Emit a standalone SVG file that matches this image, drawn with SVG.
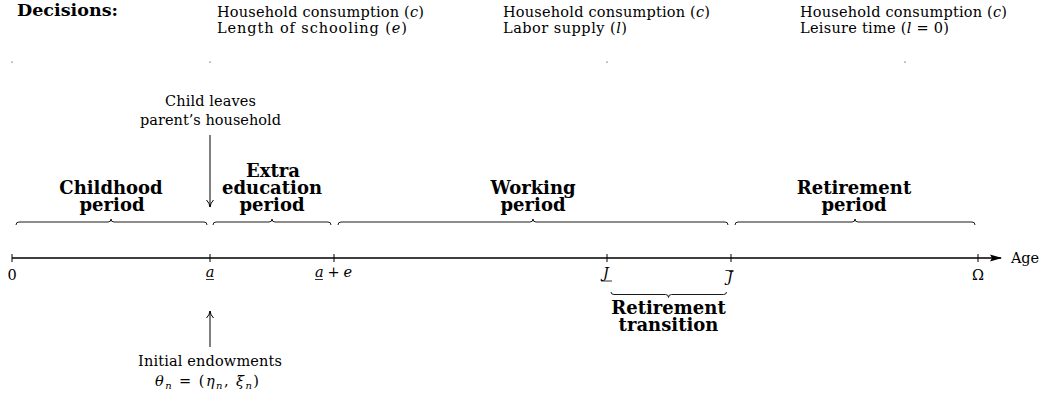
<svg xmlns="http://www.w3.org/2000/svg" width="1044" height="396" viewBox="0 0 1044 396">
<style>
text{font-family:"DejaVu Serif","Liberation Serif",serif;fill:#000}
.r{font-size:14.5px}
.b{font-size:18px;font-weight:bold}
.hd{font-size:17.5px;font-weight:bold}
.i{font-style:italic}
.s{font-size:10px;font-style:italic}
.br{fill:none;stroke:#000;stroke-width:0.9}
.tk{stroke:#000;stroke-width:1}
.ul{stroke:#000;stroke-width:0.8}
.ar{stroke:#000;stroke-width:1;fill:none}
</style>
<defs>
<marker id="open" viewBox="0 0 10 10" refX="9" refY="5" markerWidth="10" markerHeight="10" markerUnits="userSpaceOnUse" orient="auto">
<path d="M2,1.5 Q5,4.5 9,5 Q5,5.5 2,8.5" fill="none" stroke="#000" stroke-width="1"/>
</marker>
<marker id="stealth" viewBox="0 0 12 10" refX="11" refY="5" markerWidth="12" markerHeight="10" markerUnits="userSpaceOnUse" orient="auto">
<path d="M0,1.5 L12,5 L0,8.5 L2,5 Z" fill="#000"/>
</marker>
</defs>
<g id="decisions">
<text class="hd" x="17" y="16" textLength="101" lengthAdjust="spacingAndGlyphs">Decisions:</text>
<circle cx="12" cy="62" r="0.6" fill="#000"/>
</g>
<g id="decisions-education">
<text class="r" x="217" y="17" textLength="207">Household consumption (<tspan class="i">c</tspan>)</text>
<text class="r" x="217" y="33" textLength="190">Length of schooling (<tspan class="i">e</tspan>)</text>
<circle cx="210" cy="62" r="0.6" fill="#000"/>
</g>
<g id="decisions-working">
<text class="r" x="503" y="17" textLength="207">Household consumption (<tspan class="i">c</tspan>)</text>
<text class="r" x="503" y="33" textLength="124">Labor supply (<tspan class="i">l</tspan>)</text>
<circle cx="607" cy="62" r="0.6" fill="#000"/>
</g>
<g id="decisions-retirement">
<text class="r" x="800" y="17" textLength="207">Household consumption (<tspan class="i">c</tspan>)</text>
<text class="r" x="800" y="33" textLength="149">Leisure time (<tspan class="i">l</tspan> = 0)</text>
<circle cx="905" cy="62" r="0.6" fill="#000"/>
</g>
<g id="child-leaves">
<text class="r" x="165" y="106" textLength="91">Child leaves</text>
<text class="r" x="140" y="125" textLength="141">parent’s household</text>
</g>
<g id="initial-endowments">
<text class="r" x="138" y="366" textLength="144">Initial endowments</text>
<text class="r" x="155" y="386" textLength="104"><tspan class="i">θ</tspan><tspan class="s" dy="3">n</tspan><tspan dy="-3"> = (</tspan><tspan class="i">η</tspan><tspan class="s" dy="3">n</tspan><tspan dy="-3">, </tspan><tspan class="i">ξ</tspan><tspan class="s" dy="3">n</tspan><tspan dy="-3">)</tspan></text>
</g>
<g id="childhood">
<path class="br" d="M16,225 Q16,222 19,222 H108 Q111,222 111,219 Q111,222 114,222 H204 Q207,222 207,225"/>
<text class="b" x="111" y="194" text-anchor="middle">Childhood</text>
<text class="b" x="112" y="211" text-anchor="middle">period</text>
</g>
<g id="extra-education">
<path class="br" d="M213,225 Q213,222 216,222 H269 Q272,222 272,219 Q272,222 275,222 H328 Q331,222 331,225"/>
<text class="b" x="273" y="177" text-anchor="middle">Extra</text>
<text class="b" x="272" y="194" text-anchor="middle">education</text>
<text class="b" x="272" y="211" text-anchor="middle">period</text>
</g>
<g id="working">
<path class="br" d="M338,225 Q338,222 341,222 H530 Q533,222 533,219 Q533,222 536,222 H725 Q728,222 728,225"/>
<text class="b" x="533" y="194" text-anchor="middle">Working</text>
<text class="b" x="533" y="211" text-anchor="middle">period</text>
</g>
<g id="retirement">
<path class="br" d="M735,225 Q735,222 738,222 H852 Q855,222 855,219 Q855,222 858,222 H972 Q975,222 975,225"/>
<text class="b" x="854" y="194" text-anchor="middle">Retirement</text>
<text class="b" x="854" y="211" text-anchor="middle">period</text>
</g>
<g id="retirement-transition">
<path class="br" d="M611,292 Q611,294.5 614,294.5 H665.5 Q668.5,294.5 668.5,297.5 Q668.5,294.5 671.5,294.5 H723.5 Q726.5,294.5 726.5,292"/>
<text class="b" x="668.5" y="314" text-anchor="middle">Retirement</text>
<text class="b" x="668.5" y="331" text-anchor="middle">transition</text>
</g>
<g id="axis">
<line x1="12" y1="258" x2="1001" y2="258" stroke="#000" stroke-width="1.6" marker-end="url(#stealth)"/>
<line class="tk" x1="12" y1="254" x2="12" y2="262"/>
<line class="tk" x1="210" y1="254" x2="210" y2="262"/>
<line class="tk" x1="334" y1="254" x2="334" y2="262"/>
<line class="tk" x1="607" y1="254" x2="607" y2="262"/>
<line class="tk" x1="731" y1="254" x2="731" y2="262"/>
<line class="tk" x1="978" y1="254" x2="978" y2="262"/>
<text class="r" x="1011" y="263" textLength="28">Age</text>
<text class="r" x="12" y="280" text-anchor="middle">0</text>
<text class="r i" x="210" y="277" text-anchor="middle">a</text>
<line class="ul" x1="206" y1="279.5" x2="214" y2="279.5"/>
<text class="r" x="315" y="277" textLength="37"><tspan class="i">a</tspan> + <tspan class="i">e</tspan></text>
<line class="ul" x1="315" y1="279.5" x2="323" y2="279.5"/>
<text class="r i" x="606" y="278" text-anchor="middle">J</text>
<line class="ul" x1="601" y1="281" x2="612" y2="281"/>
<text class="r i" x="730" y="282" text-anchor="middle">J</text>
<line class="ul" x1="725.5" y1="270.5" x2="733.5" y2="270.5"/>
<text class="r" x="978" y="280" text-anchor="middle">Ω</text>
</g>
<g id="connectors">
<line class="ar" x1="210" y1="135" x2="210" y2="207" marker-end="url(#open)"/>
<line class="ar" x1="210" y1="347" x2="210" y2="311" marker-end="url(#open)"/>
</g>
</svg>
